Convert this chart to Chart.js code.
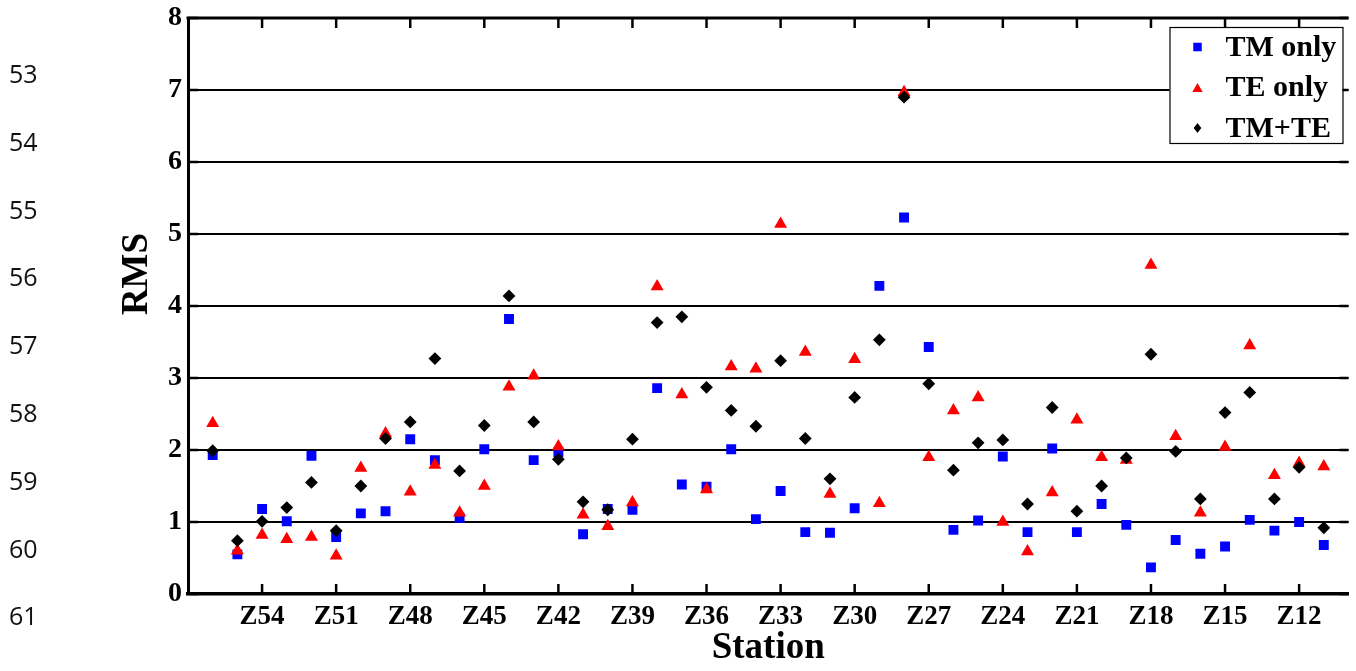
<!DOCTYPE html>
<html><head><meta charset="utf-8">
<script src="https://cdn.jsdelivr.net/npm/chart.js@4/dist/chart.umd.min.js"></script>
<style>
html,body{margin:0;padding:0;background:#fff;}
#wrap{position:relative;width:1356px;height:671px;}
canvas{position:absolute;left:0;top:0;}
</style></head><body>
<div id="wrap"><canvas id="c" width="1356" height="671"></canvas></div>
<script>
// ---- data ----
const stations = ['Z56','Z55','Z54','Z53','Z52','Z51','Z50','Z49','Z48','Z47','Z46','Z45','Z44','Z43','Z42','Z41','Z40','Z39','Z38','Z37','Z36','Z35','Z34','Z33','Z32','Z31','Z30','Z29','Z28','Z27','Z26','Z25','Z24','Z23','Z22','Z21','Z20','Z19','Z18','Z17','Z16','Z15','Z14','Z13','Z12','Z11'];
const tmOnly = [1.93,0.55,1.18,1.01,1.92,0.79,1.12,1.15,2.15,1.86,1.06,2.01,3.82,1.86,1.97,0.83,1.18,1.17,2.86,1.52,1.49,2.01,1.04,1.43,0.86,0.85,1.19,4.28,5.23,3.43,0.89,1.02,1.91,0.86,2.02,0.86,1.25,0.96,0.37,0.75,0.56,0.66,1.03,0.88,1.00,0.68];
const teOnly = [2.37,0.60,0.82,0.76,0.79,0.53,1.75,2.23,1.42,1.79,1.13,1.50,2.88,3.03,2.05,1.10,0.94,1.27,4.27,2.77,1.45,3.16,3.13,5.14,3.36,1.39,3.26,1.26,6.97,1.90,2.55,2.73,1.00,0.59,1.41,2.42,1.90,1.86,4.57,2.19,1.13,2.04,3.45,1.65,1.82,1.77];
const tmTe   = [1.99,0.74,1.01,1.20,1.55,0.88,1.50,2.16,2.39,3.27,1.71,2.34,4.14,2.39,1.87,1.28,1.17,2.15,3.77,3.85,2.87,2.55,2.33,3.24,2.16,1.60,2.73,3.53,6.90,2.92,1.72,2.10,2.14,1.25,2.59,1.15,1.50,1.89,3.33,1.98,1.32,2.52,2.80,1.32,1.76,0.92];
const xTickLabels = ['Z54','Z51','Z48','Z45','Z42','Z39','Z36','Z33','Z30','Z27','Z24','Z21','Z18','Z15','Z12'];
const yTicks = [0,1,2,3,4,5,6,7,8];
const seriesNames = ['TM only','TE only','TM+TE'];
const xTitle = 'Station';
const yTitle = 'RMS';
const lineNumbers = ['53','54','55','56','57','58','59','60','61'];

const SERIF = '"Liberation Serif", "Times New Roman", serif';
const toPts = arr => arr.map((v,i)=>({x:i, y:v}));

function drawMarker(ctx, style, x, y, s, color){
  ctx.save(); ctx.fillStyle = color; ctx.beginPath();
  if(style==='rect'){ ctx.rect(x-s/2, y-s/2, s, s); }
  else if(style==='triangle'){ const w=s*1.15, h=s; ctx.moveTo(x, y-h/2); ctx.lineTo(x+w/2, y+h/2); ctx.lineTo(x-w/2, y+h/2); ctx.closePath(); }
  else { const w=s*0.85, h=s*1.1; ctx.moveTo(x, y-h/2); ctx.lineTo(x+w/2, y); ctx.lineTo(x, y+h/2); ctx.lineTo(x-w/2, y); ctx.closePath(); }
  ctx.fill(); ctx.restore();
}

const framePlugin = {
  id:'frame',
  beforeDatasetsDraw(chart){
    const {ctx, chartArea:a, scales:{x, y}} = chart;
    ctx.save();
    ctx.strokeStyle = '#000';
    ctx.lineWidth = 3;
    ctx.beginPath(); ctx.moveTo(a.left-1.5, a.top); ctx.lineTo(a.right, a.top); ctx.stroke();
    ctx.lineWidth = 2.5;
    x.ticks.forEach(t=>{
      const px = x.getPixelForValue(t.value);
      ctx.beginPath(); ctx.moveTo(px, a.bottom); ctx.lineTo(px, a.bottom-10); ctx.stroke();
      ctx.beginPath(); ctx.moveTo(px, a.top); ctx.lineTo(px, a.top+10); ctx.stroke();
    });
    y.ticks.forEach(t=>{
      const py = y.getPixelForValue(t.value);
      ctx.beginPath(); ctx.moveTo(a.left, py); ctx.lineTo(a.left+10, py); ctx.stroke();
      ctx.beginPath(); ctx.moveTo(a.right, py); ctx.lineTo(a.right-9, py); ctx.stroke();
    });
    ctx.restore();
  },
  afterDraw(chart){
    const ctx = chart.ctx;
    ctx.save();
    ctx.fillStyle = '#000';
    ctx.font = 'bold 37px ' + SERIF;
    ctx.translate(137, 274); ctx.rotate(-Math.PI/2);
    ctx.textAlign = 'center'; ctx.textBaseline = 'middle';
    ctx.fillText(yTitle, 0, 0);
    ctx.restore();
    ctx.save();
    ctx.fillStyle = '#111';
    ctx.font = '25px "Open Sans", "Noto Sans", sans-serif';
    ctx.textAlign = 'left'; ctx.textBaseline = 'alphabetic';
    lineNumbers.forEach((t,i)=>{ ctx.fillText(t, 9, 74 + i*67.8 + 9); });
    ctx.restore();
  }
};

const legendPlugin = {
  id:'boxLegend',
  afterDraw(chart){
    const ctx = chart.ctx, a = chart.chartArea;
    const bx = a.right - 179, by = a.top + 9, bw = 173, bh = 116;
    ctx.save();
    ctx.fillStyle = '#fff'; ctx.fillRect(bx, by, bw, bh);
    ctx.strokeStyle = '#000'; ctx.lineWidth = 1.2;
    ctx.strokeRect(bx+0.5, by+0.5, bw, bh);
    ctx.font = 'bold 30px ' + SERIF;
    ctx.textAlign = 'left'; ctx.textBaseline = 'middle';
    chart.data.datasets.forEach((ds,i)=>{
      const cy = by + 20 + i*40.5;
      drawMarker(ctx, ds.pointStyle, bx + 28, cy, ds.pointStyle==='rect'?8.5:9, ds.backgroundColor);
      ctx.fillStyle = '#000';
      ctx.fillText(ds.label, bx + 56, cy + 1);
    });
    ctx.restore();
  }
};

new Chart(document.getElementById('c'), {
  type:'scatter',
  data:{ datasets:[
    {label:seriesNames[0], data:toPts(tmOnly), pointStyle:'rect', pointRadius:7, pointHoverRadius:7, backgroundColor:'#0000ff', borderWidth:0, order:3},
    {label:seriesNames[1], data:toPts(teOnly), pointStyle:'triangle', pointRadius:7.5, pointHoverRadius:7.5, backgroundColor:'#ff0000', borderWidth:0, order:2},
    {label:seriesNames[2], data:toPts(tmTe), pointStyle:'rectRot', pointRadius:6.4, pointHoverRadius:6.4, backgroundColor:'#000000', borderWidth:0, order:1}
  ]},
  options:{
    responsive:false, animation:false, devicePixelRatio:1,
    layout:{padding:{left:116, top:18, right:5, bottom:0}},
    plugins:{legend:{display:false}, tooltip:{enabled:false}},
    scales:{
      x:{
        type:'linear', min:-1, max:46,
        afterBuildTicks: s => { s.ticks = xTickLabels.map(l=>({value: stations.indexOf(l)})); },
        ticks:{callback:v=>stations[v], autoSkip:false, maxRotation:0, padding:7, color:'#000', font:{family:SERIF, size:27, weight:'bold'}},
        grid:{display:false, drawTicks:false},
        border:{display:true, color:'#000', width:3.5},
        title:{display:true, text:xTitle, color:'#000', font:{family:SERIF, size:37, weight:'bold'}, padding:{top:0, bottom:0}},
        afterFit: s => { s.height = 77; s.paddingLeft = 0; s.paddingRight = 0; }
      },
      y:{
        min:0, max:8,
        afterBuildTicks: s => { s.ticks = yTicks.map(v=>({value:v})); },
        ticks:{padding:6, color:'#000', font:{family:SERIF, size:28, weight:'bold'}},
        grid:{drawTicks:false, lineWidth:2, color:c => (c.tick && c.tick.value>0 && c.tick.value<8) ? '#000' : 'rgba(0,0,0,0)'},
        border:{display:true, color:'#000', width:3},
        title:{display:false},
        afterFit: s => { s.width = 72; s.paddingTop = 0; s.paddingBottom = 0; }
      }
    }
  },
  plugins:[framePlugin, legendPlugin]
});
</script>
</body></html>
